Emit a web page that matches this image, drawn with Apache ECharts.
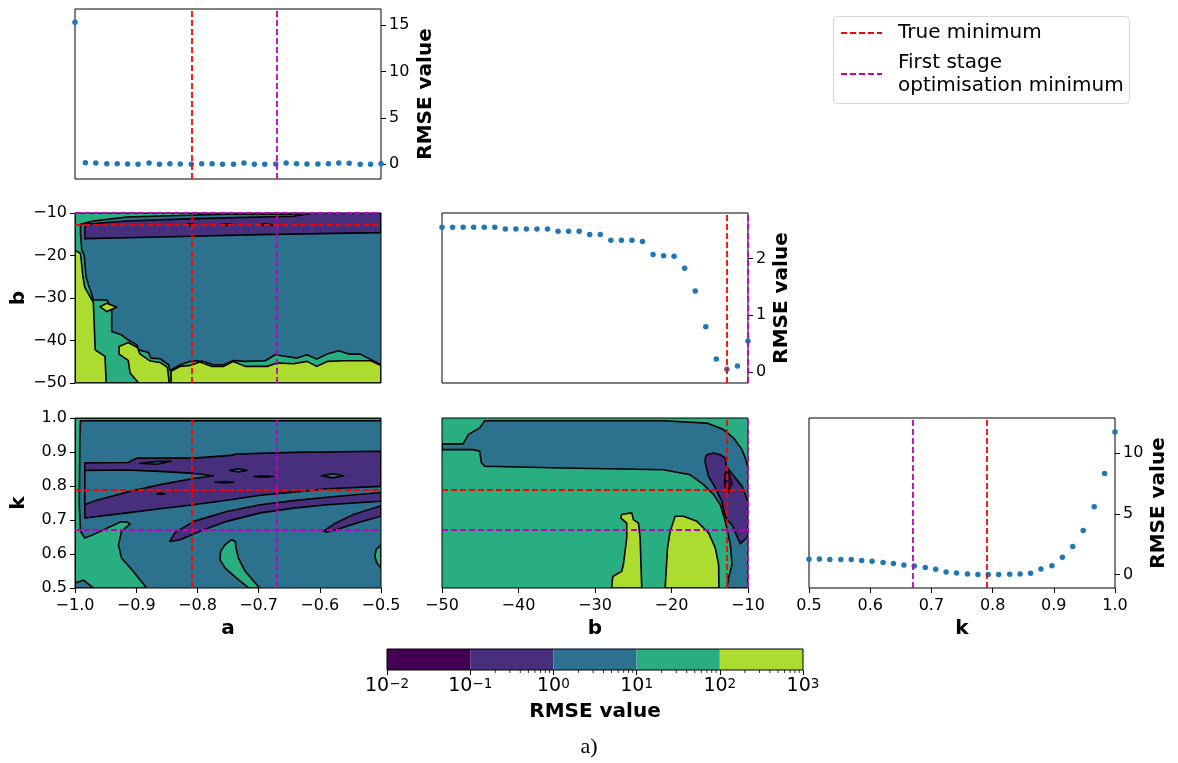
<!DOCTYPE html>
<html><head><meta charset="utf-8">
<script src="https://cdn.jsdelivr.net/npm/echarts@6/dist/echarts.min.js"></script>
<style>html,body{margin:0;padding:0;background:#fff}#c{width:1178px;height:763px}</style>
</head><body><div id="c"></div>
<script>
// ---------- data ----------
const aVals = [-1.000,-0.983,-0.966,-0.948,-0.931,-0.914,-0.897,-0.879,-0.862,-0.845,-0.828,-0.810,-0.793,-0.776,-0.759,-0.741,-0.724,-0.707,-0.690,-0.672,-0.655,-0.638,-0.621,-0.603,-0.586,-0.569,-0.552,-0.534,-0.517,-0.500];
const bVals = [-50.00,-48.62,-47.24,-45.86,-44.48,-43.10,-41.72,-40.34,-38.97,-37.59,-36.21,-34.83,-33.45,-32.07,-30.69,-29.31,-27.93,-26.55,-25.17,-23.79,-22.41,-21.03,-19.66,-18.28,-16.90,-15.52,-14.14,-12.76,-11.38,-10.00];
const kVals = [0.500,0.517,0.534,0.552,0.569,0.586,0.603,0.621,0.638,0.655,0.672,0.690,0.707,0.724,0.741,0.759,0.776,0.793,0.810,0.828,0.845,0.862,0.879,0.897,0.914,0.931,0.948,0.966,0.983,1.000];
const rmseA = [15.29,0.18,0.14,0.07,0.07,0.04,0.02,0.14,0.01,0.07,0.04,0.02,0.07,0.07,0.01,0.02,0.14,0.02,0.01,0.04,0.14,0.07,0.04,0.04,0.07,0.14,0.11,0.02,0.02,0.07];
const rmseB = [2.55,2.55,2.55,2.55,2.55,2.55,2.52,2.52,2.52,2.52,2.52,2.48,2.48,2.48,2.42,2.42,2.32,2.32,2.32,2.30,2.07,2.05,2.04,1.83,1.43,0.80,0.23,0.05,0.11,0.55];
const rmseK = [1.27,1.29,1.24,1.24,1.24,1.16,1.10,0.99,0.91,0.80,0.72,0.58,0.44,0.22,0.14,0.06,0.02,0.01,0.02,0.03,0.06,0.11,0.47,0.74,1.43,2.31,3.64,5.59,8.32,11.74];
const trueMin = [-0.810, -12.76, 0.793];      // a, b, k
const stageMin = [-0.666, -10.00, 0.666];     // a, b, k
const levelBounds = [0.01, 0.1, 1, 10, 100, 1000];
const levelColors = ['#440154', '#472f7d', '#2c718e', '#28ae80', '#addc30'];

// contour regions (data coords), drawn in order; first entry = level index into levelColors
// --- b vs a ---
const ab_green = [[-1,-10],[-0.610,-10],[-0.643,-10.31],[-0.752,-10.31],[-0.861,-10.70],[-0.915,-10.94],[-0.970,-11.88],[-0.991,-12.66],[-0.991,-14.84],[-0.989,-18.75],[-0.985,-19.92],[-0.982,-25.0],[-0.978,-26.95],[-0.975,-28.13],[-0.970,-30.47],[-0.948,-30.47],[-0.940,-32.42],[-0.940,-37.89],[-0.924,-38.67],[-0.915,-39.69],[-0.899,-41.02],[-0.896,-42.19],[-0.880,-42.81],[-0.876,-44.14],[-0.861,-44.30],[-0.847,-45.70],[-0.845,-47.03],[-0.828,-45.70],[-0.809,-44.77],[-0.790,-44.92],[-0.774,-45.70],[-0.757,-45.70],[-0.741,-44.69],[-0.722,-44.92],[-0.689,-44.77],[-0.673,-43.36],[-0.654,-43.75],[-0.637,-44.14],[-0.621,-43.36],[-0.605,-44.38],[-0.588,-43.20],[-0.569,-42.42],[-0.553,-43.20],[-0.534,-43.20],[-0.5,-45.70],[-0.5,-50],[-1,-50]];
const ab_yellowLeft = [[-1,-18.75],[-0.991,-19.53],[-0.987,-25.0],[-0.984,-27.5],[-0.970,-31.09],[-0.967,-42.19],[-0.951,-43.75],[-0.949,-50],[-1,-50]];
const ab_yellowLobe = [[-0.928,-41.41],[-0.913,-40.47],[-0.898,-41.64],[-0.894,-43.13],[-0.877,-44.84],[-0.861,-45.16],[-0.849,-46.33],[-0.846,-50],[-0.896,-50],[-0.910,-47.66],[-0.913,-44.69],[-0.928,-43.20]];
const ab_yellowBottom = [[-0.843,-50],[-0.843,-47.27],[-0.828,-46.09],[-0.812,-45.86],[-0.796,-45.08],[-0.776,-46.09],[-0.757,-46.09],[-0.741,-44.92],[-0.722,-46.09],[-0.686,-46.09],[-0.670,-45.31],[-0.643,-45.47],[-0.621,-44.92],[-0.605,-46.09],[-0.588,-44.92],[-0.561,-44.77],[-0.517,-44.77],[-0.5,-45.86],[-0.5,-50]];
const ab_diamond = [[-0.959,-32.03],[-0.948,-31.25],[-0.932,-32.19],[-0.948,-33.20]];
const ab_purple = [[-0.984,-12.66],[-0.915,-11.88],[-0.806,-11.33],[-0.643,-10.78],[-0.610,-10],[-0.5,-10],[-0.5,-14.61],[-0.697,-15.08],[-0.861,-15.63],[-0.984,-16.02]];
const ab_spot1 = [[-0.820,-12.75],[-0.812,-12.55],[-0.803,-12.75],[-0.812,-12.95]];
const ab_spot2 = [[-0.763,-12.75],[-0.755,-12.55],[-0.741,-12.75],[-0.755,-12.95]];
const ab_spot3 = [[-0.697,-12.75],[-0.689,-12.55],[-0.676,-12.75],[-0.689,-12.95]];
const polysAB = [[2,null],[3,ab_green],[4,ab_yellowLeft],[4,ab_yellowLobe],[4,ab_yellowBottom],[4,ab_diamond],[1,ab_purple],[0,ab_spot1],[0,ab_spot2],[0,ab_spot3]];

// --- k vs a ---
const ak_green = [[-1,1],[-0.5,1],[-0.5,0.992],[-0.991,0.992],[-0.992,0.941],[-0.993,0.745],[-0.991,0.667],[-0.984,0.647],[-0.970,0.657],[-0.948,0.676],[-0.926,0.694],[-0.915,0.694],[-0.910,0.688],[-0.924,0.667],[-0.929,0.627],[-0.924,0.588],[-0.905,0.549],[-0.883,0.5],[-1,0.5]];
const ak_tealCorner = [[-1,0.515],[-0.986,0.523],[-0.970,0.5],[-1,0.5]];
const ak_greenRight = [[-0.5,0.627],[-0.508,0.613],[-0.510,0.593],[-0.507,0.574],[-0.5,0.559]];
const ak_greenMid = [[-0.716,0.5],[-0.736,0.529],[-0.755,0.559],[-0.763,0.583],[-0.762,0.608],[-0.755,0.627],[-0.744,0.642],[-0.738,0.637],[-0.737,0.618],[-0.733,0.588],[-0.722,0.549],[-0.708,0.520],[-0.698,0.5]];
const ak_purpleUpper = [[-0.984,0.868],[-0.913,0.869],[-0.907,0.875],[-0.899,0.882],[-0.845,0.882],[-0.806,0.882],[-0.746,0.890],[-0.736,0.894],[-0.643,0.899],[-0.5,0.902],[-0.5,0.799],[-0.588,0.792],[-0.643,0.782],[-0.697,0.773],[-0.752,0.758],[-0.806,0.745],[-0.861,0.733],[-0.915,0.721],[-0.970,0.709],[-0.984,0.706]];
const ak_tealWedge = [[-0.984,0.846],[-0.915,0.847],[-0.861,0.843],[-0.812,0.838],[-0.774,0.830],[-0.806,0.822],[-0.861,0.804],[-0.915,0.782],[-0.970,0.755],[-0.984,0.745]];
const ak_tealLens1 = [[-0.894,0.867],[-0.866,0.872],[-0.843,0.873],[-0.866,0.864]];
const ak_tealLens2 = [[-0.747,0.846],[-0.733,0.851],[-0.719,0.846],[-0.733,0.841]];
const ak_tealLens3 = [[-0.597,0.830],[-0.579,0.836],[-0.561,0.830],[-0.579,0.824]];
const ak_purpleLower = [[-0.845,0.637],[-0.837,0.662],[-0.806,0.696],[-0.752,0.725],[-0.697,0.745],[-0.643,0.757],[-0.588,0.767],[-0.5,0.781],[-0.5,0.755],[-0.588,0.745],[-0.643,0.735],[-0.697,0.721],[-0.752,0.696],[-0.796,0.667],[-0.828,0.642]];
const ak_purpleRight = [[-0.594,0.667],[-0.577,0.688],[-0.545,0.716],[-0.5,0.742],[-0.5,0.711],[-0.534,0.694],[-0.572,0.672],[-0.588,0.665]];
const ak_spot1 = [[-0.771,0.811],[-0.756,0.813],[-0.741,0.811],[-0.756,0.809]];
const ak_spot2 = [[-0.708,0.828],[-0.692,0.830],[-0.676,0.828],[-0.692,0.826]];
const ak_spot3 = [[-0.866,0.777],[-0.860,0.779],[-0.853,0.777],[-0.860,0.775]];
const polysAK = [[2,null],[3,ak_green],[2,ak_tealCorner],[3,ak_greenRight],[3,ak_greenMid],[1,ak_purpleUpper],[2,ak_tealWedge],[2,ak_tealLens1],[2,ak_tealLens2],[2,ak_tealLens3],[1,ak_purpleLower],[1,ak_purpleRight],[0,ak_spot1],[0,ak_spot2],[0,ak_spot3]];

// --- k vs b ---
const bk_teal = [[-50,0.924],[-47.25,0.924],[-46.81,0.941],[-46.59,0.951],[-45.07,0.971],[-44.41,0.992],[-21.05,0.992],[-15.37,0.985],[-13.19,0.966],[-11.88,0.941],[-10.78,0.907],[-10.35,0.882],[-10,0.853],[-10,0.5],[-12.75,0.5],[-12.53,0.530],[-12.09,0.569],[-12.31,0.628],[-12.97,0.696],[-13.62,0.745],[-14.50,0.775],[-15.81,0.804],[-17.55,0.833],[-21.05,0.848],[-34.15,0.853],[-44.41,0.858],[-44.85,0.868],[-45.07,0.902],[-45.94,0.907],[-50,0.907]];
const bk_purple = [[-15.59,0.882],[-15.37,0.892],[-14.50,0.897],[-13.62,0.892],[-12.97,0.882],[-12.84,0.858],[-12.31,0.843],[-11.66,0.824],[-10.78,0.799],[-10.35,0.775],[-10,0.755],[-10,0.652],[-11.00,0.630],[-11.44,0.652],[-12.09,0.686],[-12.75,0.701],[-13.19,0.726],[-13.41,0.755],[-14.06,0.784],[-14.50,0.804],[-15.15,0.828],[-15.37,0.848],[-15.59,0.868]];
const bk_dark = [[-12.97,0.838],[-12.62,0.848],[-12.09,0.809],[-12.62,0.780],[-13.06,0.804]];
const bk_yellow1 = [[-26.51,0.716],[-25.20,0.721],[-24.98,0.701],[-24.32,0.691],[-24.10,0.647],[-23.89,0.5],[-27.82,0.5],[-27.68,0.534],[-26.51,0.549],[-26.29,0.569],[-25.85,0.647],[-25.85,0.691],[-26.64,0.706]];
const bk_yellow2 = [[-20.83,0.5],[-20.52,0.618],[-20.17,0.667],[-19.52,0.711],[-18.43,0.711],[-16.68,0.696],[-15.15,0.662],[-14.28,0.618],[-13.84,0.569],[-13.80,0.5]];
const polysBK = [[3,null],[2,bk_teal],[1,bk_purple],[0,bk_dark],[4,bk_yellow1],[4,bk_yellow2]];

// ---------- helpers ----------
const FF = 'DejaVu Sans';
const tickFont = {fontFamily: FF, fontSize: 16, color: '#000'};
const nameFont = {fontFamily: FF, fontSize: 20, fontWeight: 'bold', color: '#000'};
const RED = '#ff0000', MAG = '#bf00bf';
const fmt1 = v => (v < 0 ? '\u2212' : '') + Math.abs(v).toFixed(1);
const fmt0 = v => (v < 0 ? '\u2212' : '') + Math.abs(Math.round(v));
const G = [
  {left: 75, top: 9, width: 306, height: 170},
  {left: 75, top: 213, width: 306, height: 170},
  {left: 442, top: 213, width: 306, height: 170},
  {left: 75, top: 418, width: 306, height: 170},
  {left: 442, top: 418, width: 306, height: 170},
  {left: 809, top: 418, width: 306, height: 170},
  {left: 387, top: 649, width: 416, height: 21}
];
const grids = G.map((g, i) => Object.assign({show: [0,2,5].includes(i), borderColor: '#000', borderWidth: 1, backgroundColor: 'transparent'}, g));

function hiddenX(i, mn, mx) {
  return {gridIndex: i, type: 'value', min: mn, max: mx, axisLabel: {show: false}, axisTick: {show: false}, axisLine: {show: false, onZero: false}, splitLine: {show: false}};
}
function shownX(i, mn, mx, iv, fmt, name) {
  return {gridIndex: i, type: 'value', min: mn, max: mx, interval: iv,
    axisLabel: Object.assign({formatter: fmt, margin: 10}, tickFont),
    axisTick: {show: true, length: 5, lineStyle: {color: '#000', width: 1}},
    axisLine: {show: false, onZero: false}, splitLine: {show: false},
    name: name, nameLocation: 'middle', nameGap: 31, nameTextStyle: nameFont};
}
function rightY(i, mn, mx, vals, gap) {
  return {gridIndex: i, type: 'value', position: 'right', min: mn, max: mx,
    axisLabel: Object.assign({customValues: vals, formatter: fmt0, margin: 8}, tickFont),
    axisTick: {show: true, customValues: vals, length: 5, lineStyle: {color: '#000', width: 1}},
    axisLine: {show: false, onZero: false}, splitLine: {show: false},
    name: 'RMSE value', nameLocation: 'middle', nameRotate: 90, nameGap: gap, nameTextStyle: nameFont};
}
function leftY(i, mn, mx, iv, fmt, name) {
  return {gridIndex: i, type: 'value', min: mn, max: mx, interval: iv,
    axisLabel: Object.assign({formatter: fmt, margin: 8}, tickFont),
    axisTick: {show: true, length: 5, lineStyle: {color: '#000', width: 1}},
    axisLine: {show: false, onZero: false}, splitLine: {show: false},
    name: name, nameLocation: 'middle', nameRotate: 90, nameGap: 46, nameTextStyle: nameFont};
}

const xAxes = [
  hiddenX(0, -1, -0.5),
  hiddenX(1, -1, -0.5),
  hiddenX(2, -50, -10),
  shownX(3, -1, -0.5, 0.1, fmt1, 'a'),
  shownX(4, -50, -10, 10, fmt0, 'b'),
  shownX(5, 0.5, 1.0, 0.1, fmt1, 'k'),
  {gridIndex: 6, type: 'log', logBase: 10, min: 0.01, max: 1000,
   axisLine: {show: false, onZero: false}, splitLine: {show: false},
   axisTick: {show: true, length: 5, lineStyle: {color: '#000'}},
   axisLabel: {margin: 7, formatter: v => {const e = Math.round(Math.log10(v)); return '{b|10}{s|' + (e < 0 ? '\u2212' : '') + Math.abs(e) + '}';},
     rich: {b: {fontFamily: FF, fontSize: 19, color: '#000', verticalAlign: 'bottom'}, s: {fontFamily: FF, fontSize: 13.5, color: '#000', verticalAlign: 'top', lineHeight: 13}}},
   name: 'RMSE value', nameLocation: 'middle', nameGap: 32, nameTextStyle: nameFont}
];
const yAxes = [
  rightY(0, -1.58, 16.72, [0, 5, 10, 15], 35),
  leftY(1, -50, -10, 10, fmt0, 'b'),
  rightY(2, -0.19, 2.8, [0, 1, 2], 24),
  leftY(3, 0.5, 1.0, 0.1, fmt1, 'k'),
  {gridIndex: 4, type: 'value', min: 0.5, max: 1.0, axisLabel: {show: false}, axisTick: {show: false}, axisLine: {show: false, onZero: false}, splitLine: {show: false}},
  rightY(5, -1.10, 12.89, [0, 5, 10], 34),
  {gridIndex: 6, type: 'value', min: 0, max: 1, show: false}
];

function contourSeries(i, polys, xr, yr) {
  return {type: 'custom', xAxisIndex: i, yAxisIndex: i, clip: true, z: 2, silent: true,
    data: polys.map((p, j) => [xr[0], yr[0], j]),
    renderItem: (params, api) => {
      const p = polys[api.value(2)];
      const pts = p[1] === null ? [[xr[0], yr[0]], [xr[1], yr[0]], [xr[1], yr[1]], [xr[0], yr[1]]] : p[1];
      return {type: 'polygon', shape: {points: pts.map(q => api.coord(q))},
        style: {fill: levelColors[p[0]], stroke: p[1] === null ? null : '#000', lineWidth: 1.6, lineJoin: 'round'}};
    }};
}
function frameSeries(i, xr, yr) {
  return {type: 'custom', xAxisIndex: i, yAxisIndex: i, clip: false, z: 3, silent: true,
    data: [[xr[0], yr[0]]],
    renderItem: (params, api) => {
      const p0 = api.coord([xr[0], yr[1]]), p1 = api.coord([xr[1], yr[0]]);
      return {type: 'rect', shape: {x: p0[0], y: p0[1], width: p1[0] - p0[0], height: p1[1] - p0[1]},
        style: {fill: null, stroke: '#000', lineWidth: 1}};
    }};
}
function refLines(i, vx, vy) {
  const d = [];
  vx.forEach(([v, c]) => d.push({xAxis: v, lineStyle: {color: c}}));
  vy.forEach(([v, c]) => d.push({yAxis: v, lineStyle: {color: c}}));
  return {type: 'line', xAxisIndex: i, yAxisIndex: i, data: [], z: 6, silent: true,
    markLine: {silent: true, symbol: 'none', label: {show: false}, animation: false,
      lineStyle: {type: [6, 3], width: 1.8}, data: d}};
}
function scatterSeries(i, xs, ys) {
  return {type: 'scatter', xAxisIndex: i, yAxisIndex: i, z: 4, symbolSize: 5.5, silent: true,
    itemStyle: {color: '#1f77b4', opacity: 1}, data: xs.map((x, j) => [x, ys[j]])};
}

const minorTicks = [];
[0.1, 1, 10, 100].forEach(d => { for (let m = 2; m <= 9; m++) minorTicks.push(m * d); });

const series = [
  scatterSeries(0, aVals, rmseA),
  refLines(0, [[trueMin[0], RED], [stageMin[0], MAG]], []),
  contourSeries(1, polysAB, [-1, -0.5], [-50, -10]),
  frameSeries(1, [-1, -0.5], [-50, -10]),
  refLines(1, [[trueMin[0], RED], [stageMin[0], MAG]], [[trueMin[1], RED], [stageMin[1], MAG]]),
  scatterSeries(2, bVals, rmseB),
  refLines(2, [[trueMin[1], RED], [stageMin[1], MAG]], []),
  contourSeries(3, polysAK, [-1, -0.5], [0.5, 1.0]),
  frameSeries(3, [-1, -0.5], [0.5, 1.0]),
  refLines(3, [[trueMin[0], RED], [stageMin[0], MAG]], [[trueMin[2], RED], [stageMin[2], MAG]]),
  contourSeries(4, polysBK, [-50, -10], [0.5, 1.0]),
  frameSeries(4, [-50, -10], [0.5, 1.0]),
  refLines(4, [[trueMin[1], RED], [stageMin[1], MAG]], [[trueMin[2], RED], [stageMin[2], MAG]]),
  scatterSeries(5, kVals, rmseK),
  refLines(5, [[trueMin[2], RED], [stageMin[2], MAG]], []),
  // colorbar
  {type: 'custom', xAxisIndex: 6, yAxisIndex: 6, clip: false, z: 2, silent: true,
   data: levelColors.map((c, j) => [levelBounds[j], 0, j]),
   renderItem: (params, api) => {
     const j = api.value(2);
     const p0 = api.coord([levelBounds[j], 1]), p1 = api.coord([levelBounds[j + 1], 0]);
     return {type: 'rect', shape: {x: p0[0], y: p0[1], width: p1[0] - p0[0], height: p1[1] - p0[1]},
       style: {fill: levelColors[j], stroke: null}};
   }},
  {type: 'custom', xAxisIndex: 6, yAxisIndex: 6, clip: false, z: 3, silent: true,
   data: minorTicks.map(v => [v, 0]),
   renderItem: (params, api) => {
     const p = api.coord([api.value(0), 0]);
     return {type: 'line', shape: {x1: p[0], y1: p[1], x2: p[0], y2: p[1] + 3}, style: {stroke: '#000', lineWidth: 0.8}};
   }},
  frameSeries(6, [0.01, 1000], [0, 1])
];

const graphic = [
  {type: 'rect', left: 833, top: 16, shape: {width: 296, height: 87, r: 4}, style: {fill: 'rgba(255,255,255,0.8)', stroke: '#d6d6d6', lineWidth: 1}, z: 10},
  {type: 'line', shape: {x1: 841, y1: 33, x2: 882, y2: 33}, style: {stroke: RED, lineWidth: 1.8, lineDash: [6, 3]}, z: 11},
  {type: 'line', shape: {x1: 841, y1: 74, x2: 882, y2: 74}, style: {stroke: MAG, lineWidth: 1.8, lineDash: [6, 3]}, z: 11},
  {type: 'text', x: 898, y: 33, style: {text: 'True minimum', font: '20px "DejaVu Sans"', fill: '#000', verticalAlign: 'middle'}, z: 11},
  {type: 'text', x: 898, y: 63, style: {text: 'First stage', font: '20px "DejaVu Sans"', fill: '#000', verticalAlign: 'middle'}, z: 11},
  {type: 'text', x: 898, y: 86, style: {text: 'optimisation minimum', font: '20px "DejaVu Sans"', fill: '#000', verticalAlign: 'middle'}, z: 11},
  {type: 'text', x: 589, y: 747, style: {text: 'a)', font: '22px "Liberation Serif"', fill: '#000', align: 'center', verticalAlign: 'middle'}, z: 11}
];

const chart = echarts.init(document.getElementById('c'), null, {renderer: 'canvas'});
chart.setOption({animation: false, backgroundColor: '#fff', grid: grids, xAxis: xAxes, yAxis: yAxes, series: series, graphic: graphic});
</script></body></html>
